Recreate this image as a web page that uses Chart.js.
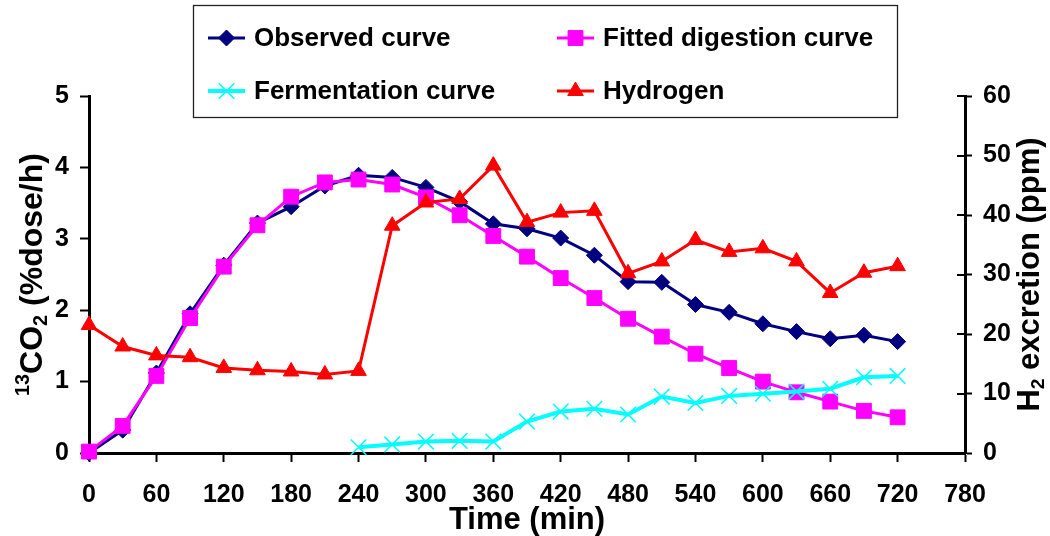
<!DOCTYPE html>
<html>
<head>
<meta charset="utf-8">
<script src="https://cdn.jsdelivr.net/npm/chart.js@4.4.1/dist/chart.umd.min.js"></script>
<style>
  html, body { margin: 0; padding: 0; background: #ffffff; }
  #wrap { width: 1050px; height: 536px; position: relative; }
</style>
</head>
<body>
<div id="wrap"><canvas id="chart" width="1050" height="536"></canvas></div>
<script>
// Breath test time points (min)
const timeMin = [0, 30, 60, 90, 120, 150, 180, 210, 240, 270, 300, 330, 360,
                 390, 420, 450, 480, 510, 540, 570, 600, 630, 660, 690, 720];
// 13CO2 excretion (%dose/h)
const observed = [0, 0.32, 1.12, 1.95, 2.63, 3.22, 3.45, 3.74, 3.89, 3.86, 3.72, 3.52, 3.21,
                  3.14, 3.01, 2.77, 2.40, 2.39, 2.08, 1.97, 1.81, 1.70, 1.60, 1.65, 1.56];
const fitted = [0.02, 0.38, 1.08, 1.89, 2.61, 3.19, 3.59, 3.79, 3.83, 3.76, 3.58, 3.33, 3.04,
                2.75, 2.45, 2.17, 1.88, 1.63, 1.39, 1.19, 1.00, 0.85, 0.72, 0.59, 0.50];
// Fermentation component starts at 240 min
const fermentTime = [240, 270, 300, 330, 360, 390, 420, 450, 480, 510, 540, 570, 600, 630, 660, 690, 720];
const fermentation = [0.08, 0.12, 0.16, 0.17, 0.16, 0.44, 0.58, 0.62, 0.54, 0.79, 0.70, 0.80,
                      0.83, 0.86, 0.90, 1.06, 1.08];
// Breath hydrogen (ppm)
const hydrogen = [21.5, 17.9, 16.4, 16.1, 14.3, 13.9, 13.7, 13.2, 13.8, 38.2, 42.1, 42.7, 48.3,
                  38.8, 40.4, 40.7, 30.2, 32.2, 35.8, 33.8, 34.4, 32.2, 26.9, 30.3, 31.4];

// Axis ticks
const timeTicks = [0, 60, 120, 180, 240, 300, 360, 420, 480, 540, 600, 660, 720, 780];
const co2Ticks = [0, 1, 2, 3, 4, 5];
const h2Ticks = [0, 10, 20, 30, 40, 50, 60];

const FONT = '"Liberation Sans", Arial, Helvetica, sans-serif';
const pairs = (xs, ys) => xs.map((x, i) => ({ x: x, y: ys[i] }));

const datasets = [
  {
    label: 'Observed curve', data: pairs(timeMin, observed), yAxisID: 'y',
    borderColor: '#000080', backgroundColor: '#000080', borderWidth: 3,
    pointStyle: 'rectRot', pointRadius: 8, pointBorderWidth: 1, order: 3
  },
  {
    label: 'Fitted digestion curve', data: pairs(timeMin, fitted), yAxisID: 'y',
    borderColor: '#FF00FF', backgroundColor: '#FF00FF', borderWidth: 3,
    pointStyle: 'rect', pointRadius: 10.5, pointBorderWidth: 1, order: 2
  },
  {
    label: 'Fermentation curve', data: pairs(fermentTime, fermentation), yAxisID: 'y',
    borderColor: '#00FFFF', backgroundColor: '#00FFFF', borderWidth: 4,
    pointStyle: 'crossRot', pointRadius: 11, pointBorderWidth: 1.5, order: 1
  },
  {
    label: 'Hydrogen', data: pairs(timeMin, hydrogen), yAxisID: 'y2',
    borderColor: '#FF0000', backgroundColor: '#FF0000', borderWidth: 3,
    pointStyle: 'triangle', pointRadius: 9, pointBorderWidth: 1, order: 0
  }
];
datasets.forEach(d => { d.tension = 0; d.clip = false; d.fill = false; });

// Marker drawing for the legend (same shapes as the chart points)
function drawMarker(ctx, ds, x, y) {
  ctx.save();
  ctx.fillStyle = ds.backgroundColor;
  ctx.strokeStyle = ds.borderColor;
  ctx.lineWidth = ds.pointBorderWidth;
  if (Chart.helpers && Chart.helpers.drawPoint) {
    Chart.helpers.drawPoint(ctx, {
      pointStyle: ds.pointStyle, rotation: 0, radius: ds.pointRadius, borderWidth: ds.pointBorderWidth
    }, x, y);
  }
  ctx.restore();
}

// Text made of runs, with superscript/subscript parts
function richWidth(ctx, runs, size) {
  let w = 0;
  runs.forEach(r => {
    const s = r.kind ? size * 0.62 : size;
    ctx.font = 'bold ' + s + 'px ' + FONT;
    w += ctx.measureText(r.text).width;
  });
  return w;
}
function drawRich(ctx, runs, size, cx, cy) {
  // rotated -90deg, cx/cy = centre of the cap height band
  ctx.save();
  ctx.translate(cx, cy);
  ctx.rotate(-Math.PI / 2);
  ctx.fillStyle = '#000';
  ctx.textBaseline = 'alphabetic';
  ctx.textAlign = 'left';
  const total = richWidth(ctx, runs, size);
  let x = -total / 2;
  const base = size * 0.36;
  runs.forEach(r => {
    const s = r.kind ? size * 0.62 : size;
    ctx.font = 'bold ' + s + 'px ' + FONT;
    let y = base;
    if (r.kind === 'sup') y = base - size * 0.38;
    if (r.kind === 'sub') y = base + size * 0.16;
    ctx.fillText(r.text, x, y);
    x += ctx.measureText(r.text).width;
  });
  ctx.restore();
}

const decorations = {
  id: 'decorations',
  afterDraw(chart) {
    const ctx = chart.ctx;
    const area = chart.chartArea;

    // inner half of the right-axis tick marks
    const y2 = chart.scales.y2;
    ctx.save();
    ctx.strokeStyle = '#000';
    ctx.lineWidth = 2;
    h2Ticks.forEach(v => {
      const py = Math.round(y2.getPixelForValue(v)) + 0.0;
      ctx.beginPath();
      ctx.moveTo(area.right - 8, py);
      ctx.lineTo(area.right, py);
      ctx.stroke();
    });
    ctx.restore();

    // axis titles
    drawRich(ctx, [
      { text: '13', kind: 'sup' }, { text: 'CO' }, { text: '2', kind: 'sub' }, { text: ' (%dose/h)' }
    ], 32, 30, (area.top + area.bottom) / 2);
    drawRich(ctx, [
      { text: 'H' }, { text: '2', kind: 'sub' }, { text: ' excretion (ppm)' }
    ], 31, 1028, (area.top + area.bottom) / 2);

    // legend box
    ctx.save();
    ctx.fillStyle = '#ffffff';
    ctx.strokeStyle = '#222';
    ctx.lineWidth = 1.3;
    ctx.fillRect(193, 5, 704, 112);
    ctx.strokeRect(193.5, 5.5, 704, 112);
    const cols = [208, 557];
    const rows = [38, 91];
    const ds = chart.data.datasets;
    ds.forEach((d, i) => {
      const lx = cols[i % 2];
      const ly = rows[Math.floor(i / 2)];
      ctx.strokeStyle = d.borderColor;
      ctx.lineWidth = d.borderWidth;
      ctx.beginPath();
      ctx.moveTo(lx, ly);
      ctx.lineTo(lx + 37, ly);
      ctx.stroke();
      drawMarker(ctx, d, lx + 18.5, ly);
      ctx.fillStyle = '#000';
      ctx.font = 'bold 26px ' + FONT;
      ctx.textBaseline = 'middle';
      ctx.textAlign = 'left';
      ctx.fillText(d.label, lx + 46, ly + 1);
    });
    ctx.restore();
  }
};

const tickFont = { family: FONT, size: 25, weight: 'bold' };
const axisGrid = { drawOnChartArea: false, drawTicks: true, tickLength: 9, tickWidth: 2, tickColor: '#000' };
const axisBorder = { display: true, color: '#000', width: 3 };

new Chart(document.getElementById('chart'), {
  type: 'line',
  data: { datasets: datasets },
  options: {
    responsive: false,
    animation: false,
    devicePixelRatio: 1,
    events: [],
    layout: { padding: { top: 96, left: 0, right: 0, bottom: 0 } },
    plugins: { legend: { display: false }, tooltip: { enabled: false } },
    scales: {
      x: {
        type: 'linear', position: 'bottom', min: 0, max: 780,
        afterBuildTicks: s => { s.ticks = timeTicks.map(v => ({ value: v })); },
        afterFit: s => { s.height = 83; },
        ticks: { font: tickFont, color: '#000', padding: 18, maxRotation: 0, autoSkip: false },
        grid: axisGrid, border: axisBorder,
        title: { display: true, text: 'Time (min)', color: '#000',
                 font: { family: FONT, size: 31, weight: 'bold', lineHeight: 1 },
                 padding: { top: 0, bottom: 0 } }
      },
      y: {
        type: 'linear', position: 'left', min: 0, max: 5,
        afterBuildTicks: s => { s.ticks = co2Ticks.map(v => ({ value: v })); },
        afterFit: s => { s.width = 89; },
        ticks: { font: tickFont, color: '#000', padding: 11 },
        grid: axisGrid, border: axisBorder
      },
      y2: {
        type: 'linear', position: 'right', min: 0, max: 60,
        afterBuildTicks: s => { s.ticks = h2Ticks.map(v => ({ value: v })); },
        afterFit: s => { s.width = 85; },
        ticks: { font: tickFont, color: '#000', padding: 11 },
        grid: { drawOnChartArea: false, drawTicks: true, tickLength: 7, tickWidth: 2, tickColor: '#000' },
        border: axisBorder
      }
    }
  },
  plugins: [decorations]
});
</script>
</body>
</html>
